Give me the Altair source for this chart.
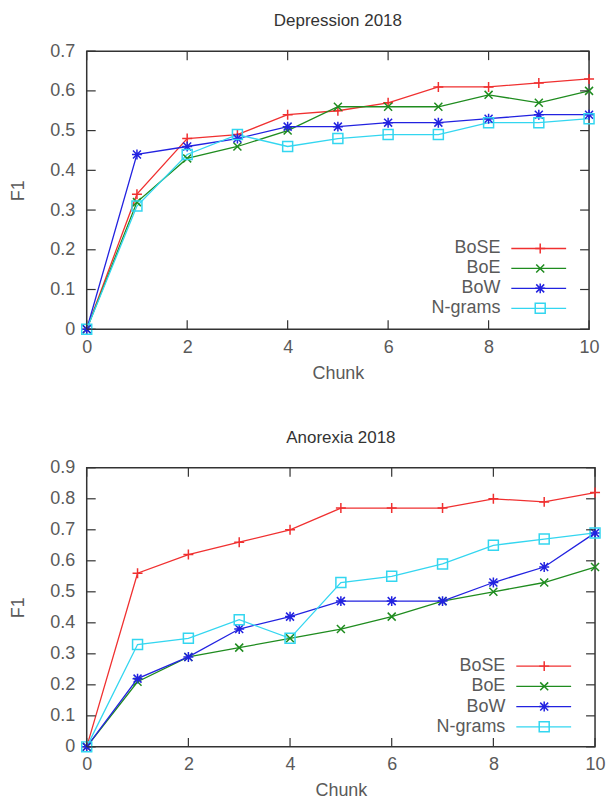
import altair as alt
import pandas as pd

chunks = [0, 1, 2, 3, 4, 5, 6, 7, 8, 9, 10]
series_names = ["BoSE", "BoE", "BoW", "N-grams"]

dep_bose = [0.0, 0.34, 0.48, 0.49, 0.54, 0.55, 0.57, 0.61, 0.61, 0.62, 0.63]
dep_boe = [0.0, 0.32, 0.43, 0.46, 0.50, 0.56, 0.56, 0.56, 0.59, 0.57, 0.60]
dep_bow = [0.0, 0.44, 0.46, 0.48, 0.51, 0.51, 0.52, 0.52, 0.53, 0.54, 0.54]
dep_ngrams = [0.0, 0.31, 0.44, 0.49, 0.46, 0.48, 0.49, 0.49, 0.52, 0.52, 0.53]

ano_bose = [0.0, 0.56, 0.62, 0.66, 0.70, 0.77, 0.77, 0.77, 0.80, 0.79, 0.82]
ano_boe = [0.0, 0.21, 0.29, 0.32, 0.35, 0.38, 0.42, 0.47, 0.50, 0.53, 0.58]
ano_bow = [0.0, 0.22, 0.29, 0.38, 0.42, 0.47, 0.47, 0.47, 0.53, 0.58, 0.69]
ano_ngrams = [0.0, 0.33, 0.35, 0.41, 0.35, 0.53, 0.55, 0.59, 0.65, 0.67, 0.69]

x_ticks = [0, 2, 4, 6, 8, 10]
dep_y_ticks = [0, 0.1, 0.2, 0.3, 0.4, 0.5, 0.6, 0.7]
ano_y_ticks = [0, 0.1, 0.2, 0.3, 0.4, 0.5, 0.6, 0.7, 0.8, 0.9]

colors = ["#f03030", "#1f8c1f", "#2222e0", "#33d6f0"]
plus_path = "M-1,0L1,0M0,-1L0,1"
cross_path = "M-0.8,-0.8L0.8,0.8M-0.8,0.8L0.8,-0.8"
star_path = plus_path + cross_path
shapes = [plus_path, cross_path, star_path, "square"]

TEXT = "#5a5a5a"
FONT = "Liberation Sans"
FS = 18


def panel(title, series_values, ymax, yticks, W, H, leg):
    rows = []
    for name, vals in zip(series_names, series_values):
        for c, v in zip(chunks, vals):
            rows.append({"series": name, "chunk": c, "f1": v})
    df = pd.DataFrame(rows)

    xs = alt.Scale(domain=[0, 10], nice=False, zero=False)
    ys = alt.Scale(domain=[0, ymax], nice=False, zero=False)
    color = alt.Color("series:N", scale=alt.Scale(domain=series_names, range=colors), legend=None)
    shape = alt.Shape("series:N", scale=alt.Scale(domain=series_names, range=shapes), legend=None)

    xaxis = alt.Axis(values=x_ticks, title="Chunk", ticks=False, domain=False, grid=False,
                     labelPadding=9, titlePadding=8, labelFontSize=FS, titleFontSize=FS,
                     labelColor=TEXT, titleColor=TEXT, labelFont=FONT, titleFont=FONT,
                     titleFontWeight="normal", format="d", labelFlush=False,
                     labelOverlap=False)
    yaxis = alt.Axis(values=yticks, title="F1", ticks=False, domain=False, grid=False,
                     labelPadding=12, titlePadding=22, labelFontSize=FS, titleFontSize=FS,
                     labelColor=TEXT, titleColor=TEXT, labelFont=FONT, titleFont=FONT,
                     titleFontWeight="normal", format=".1f", labelFlush=False,
                     labelOverlap=False, labelExpr="datum.value == 0 ? '0' : datum.label")

    base = alt.Chart(df)
    lines = base.mark_line(strokeWidth=1.3).encode(
        x=alt.X("chunk:Q", scale=xs, axis=xaxis, title="Chunk"),
        y=alt.Y("f1:Q", scale=ys, axis=yaxis, title="F1"),
        color=color)
    points = base.mark_point(filled=False, size=100, strokeWidth=1.5, opacity=1).encode(
        x=alt.X("chunk:Q", scale=xs, axis=None),
        y=alt.Y("f1:Q", scale=ys, axis=None),
        color=color, shape=shape)

    # inward tick marks on all four sides
    TL = 9
    xt = alt.Chart(pd.DataFrame({"xv": x_ticks}))
    yt = alt.Chart(pd.DataFrame({"yv": yticks}))
    rs = dict(color="#333333", strokeWidth=1.2)
    xt_bottom = xt.mark_rule(**rs).encode(
        x=alt.X("xv:Q", scale=xs, axis=None), y=alt.value(H - TL), y2=alt.value(H))
    xt_top = xt.mark_rule(**rs).encode(
        x=alt.X("xv:Q", scale=xs, axis=None), y=alt.value(0), y2=alt.value(TL))
    yt_left = yt.mark_rule(**rs).encode(
        y=alt.Y("yv:Q", scale=ys, axis=None), x=alt.value(0), x2=alt.value(TL))
    yt_right = yt.mark_rule(**rs).encode(
        y=alt.Y("yv:Q", scale=ys, axis=None), x=alt.value(W - TL), x2=alt.value(W))

    lx_text, lx0, lx1, lmx, y0, dy = leg
    legdf = pd.DataFrame({"series": series_names, "idx": list(range(len(series_names)))})
    lbase = alt.Chart(legdf).transform_calculate(
        ly=f"{ymax} * (1 - ({y0} + {dy} * datum.idx) / {H})")
    LY = alt.Y("ly:Q", scale=ys, axis=None)
    leg_text = lbase.mark_text(align="right", baseline="middle", fontSize=FS, font=FONT,
                               color=TEXT).encode(x=alt.value(lx_text), y=LY,
                                                  text="series:N")
    leg_line = lbase.mark_rule(strokeWidth=1.3).encode(
        x=alt.value(lx0), x2=alt.value(lx1), y=LY, color=color)
    leg_pt = lbase.mark_point(filled=False, size=100, strokeWidth=1.5, opacity=1).encode(
        x=alt.value(lmx), y=LY, color=color, shape=shape)

    return alt.layer(
        lines, points, xt_bottom, xt_top, yt_left, yt_right, leg_line, leg_pt, leg_text
    ).resolve_axis(x="independent", y="independent").properties(
        width=W, height=H,
        title=alt.TitleParams(title, fontSize=17, font=FONT, color="#333333",
                              fontWeight="normal", anchor="middle", offset=12),
    )


top = panel("Depression 2018", [dep_bose, dep_boe, dep_bow, dep_ngrams], 0.7,
            dep_y_ticks, 504, 279, (415, 426, 481, 455, 198, 20))
bottom = panel("Anorexia 2018", [ano_bose, ano_boe, ano_bow, ano_ngrams], 0.9,
               ano_y_ticks, 510, 280, (420, 431, 486, 459, 199, 20.3))

chart = alt.vconcat(top, bottom, spacing=45).properties(
    padding={"left": 9, "top": 10, "right": 0, "bottom": 0}
).configure_view(stroke="#333333", strokeWidth=1.5)

chart.save("out.html", embed_options={"renderer": "svg", "actions": False})
